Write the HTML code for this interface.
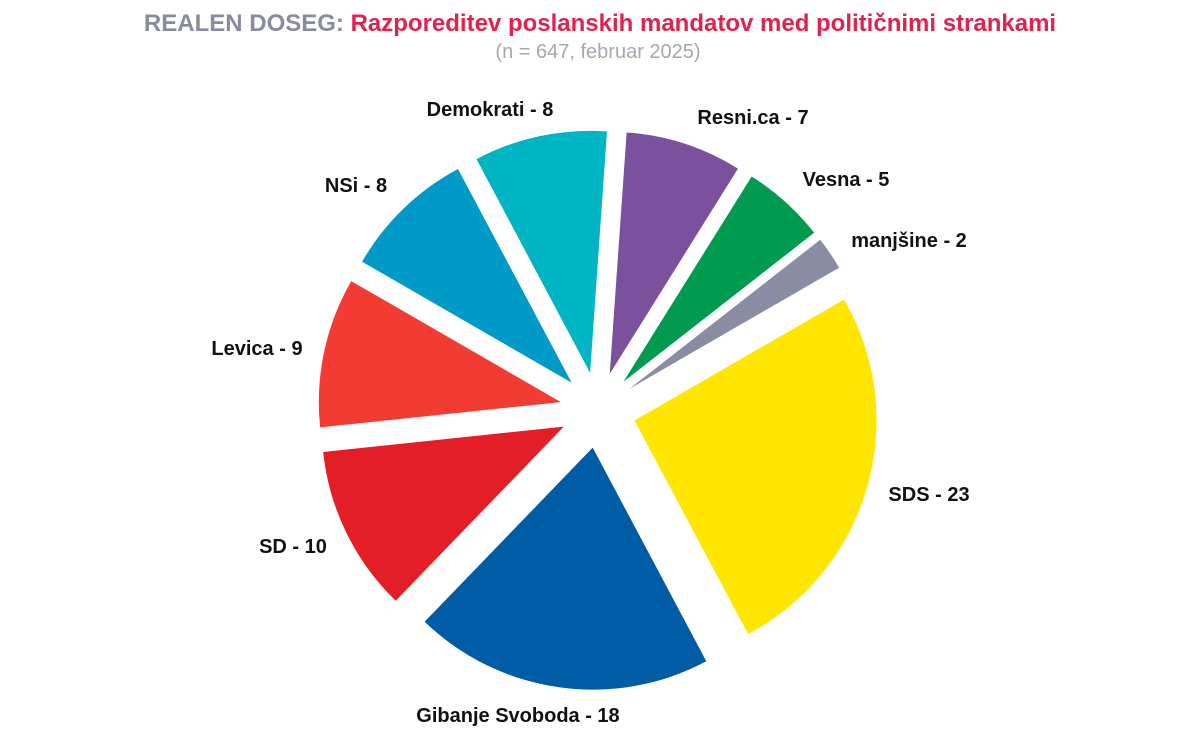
<!DOCTYPE html>
<html><head><meta charset="utf-8">
<style>
html,body{margin:0;padding:0;background:#fff;}
body{width:1200px;height:749px;overflow:hidden;font-family:"Liberation Sans",Arial,sans-serif;}
</style></head>
<body>
<svg id="chart" width="1200" height="749" viewBox="0 0 1200 749">
<text x="600" y="31" text-anchor="middle" font-size="24" font-weight="bold"><tspan fill="#8a8ba3">REALEN DOSEG: </tspan><tspan fill="#e0234e">Razporeditev poslanskih mandatov med političnimi strankami</tspan></text>
<text x="598" y="58" text-anchor="middle" font-size="20" fill="#a6a6b4">(n = 647, februar 2025)</text>
<g id="slices"></g>
<g id="labels"></g>
</svg>
<script>
const parties = ["Resni.ca","Vesna","manjšine","SDS","Gibanje Svoboda","SD","Levica","NSi","Demokrati"];
const seats = [7,5,2,23,18,10,9,8,8];
const colors = ["#7b509d","#009b4f","#8a8ca3","#ffe600","#005ca5","#e41e26","#f23b33","#009ac8","#00b5c3"];
const labelPos = [[753,124],[846,186],[909,247],[929,501],[518,722],[293,553],[257,355],[356,192],[490,116]];
const cx=598, cy=410, r=242, ex=38, start=4*Math.PI/180;
const total = seats.reduce((a,b)=>a+b,0);
const NS="http://www.w3.org/2000/svg";
const gs=document.getElementById('slices'), gl=document.getElementById('labels');
let a0=start;
function pt(a,rad,ox,oy){return [ox+rad*Math.sin(a),oy-rad*Math.cos(a)];}
seats.forEach((v,i)=>{
  const a1=a0+v/total*2*Math.PI, am=(a0+a1)/2;
  const ox=cx+ex*Math.sin(am), oy=cy-ex*Math.cos(am);
  const p0=pt(a0,r,ox,oy), p1=pt(a1,r,ox,oy);
  const large=(a1-a0)>Math.PI?1:0;
  const p=document.createElementNS(NS,'path');
  p.setAttribute('d',`M${ox},${oy} L${p0[0]},${p0[1]} A${r},${r} 0 ${large} 1 ${p1[0]},${p1[1]} Z`);
  p.setAttribute('fill',colors[i]);
  
  
  gs.appendChild(p);
  const t=document.createElementNS(NS,'text');
  t.setAttribute('x',labelPos[i][0]);t.setAttribute('y',labelPos[i][1]);
  t.setAttribute('text-anchor','middle');t.setAttribute('font-size','20');
  t.setAttribute('font-weight','bold');t.setAttribute('fill','#111');
  t.textContent=parties[i]+' - '+v;
  
  
  gl.appendChild(t);
  a0=a1;
});
</script>
</body></html>
